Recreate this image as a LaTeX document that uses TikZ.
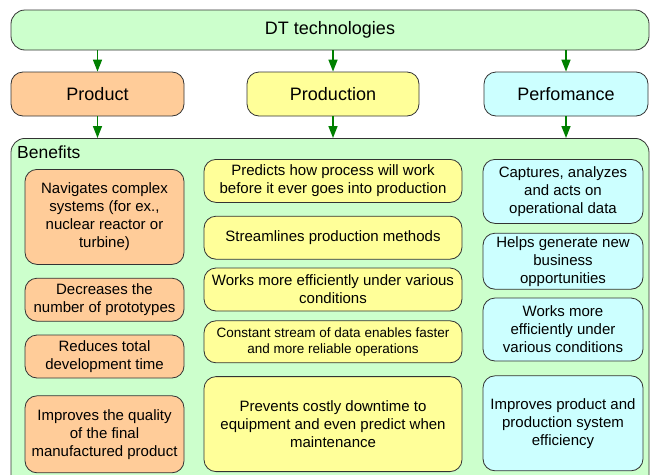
\documentclass[tikz,border=0pt]{standalone}
\usepackage{fontspec}
\setmainfont{Liberation Sans}
\usetikzlibrary{arrows.meta,positioning}

\definecolor{techgreen}{HTML}{CCFFCC}
\definecolor{prodorange}{HTML}{FFCC99}
\definecolor{prodyellow}{HTML}{FFFF99}
\definecolor{perfcyan}{HTML}{CCFFFF}
\definecolor{linkgreen}{HTML}{008000}

\begin{document}
\begin{tikzpicture}
    [x=1pt, y=-1pt, font=\fontsize{15}{18}\selectfont,
    % STYLES
    % The box style is the common look of every rounded box
    box/.style={rectangle, draw=black!80, line width=0.8pt, rounded corners=12pt, align=center, inner sep=2pt},
    % The head style is used for the three categories
    head/.style={box, minimum height=44pt, font=\fontsize{18}{21}\selectfont},
    % One style for each column of benefits
    product/.style={box, fill=prodorange, minimum width=159pt},
    production/.style={box, fill=prodyellow, minimum width=258pt},
    perfo/.style={box, fill=perfcyan, minimum width=160pt},
    % The link style is used for the green arrows
    link/.style={-{Triangle[length=12pt,width=9pt]}, draw=linkgreen, line width=1.5pt}]
    \useasboundingbox (0,0) rectangle (650,474);

    % Draw top and categories
    \node [box, fill=techgreen, minimum width=638pt, minimum height=40pt, rounded corners=14pt, font=\fontsize{18}{21}\selectfont] (dt) at (330,30) {DT technologies};
    \node [head, fill=prodorange, minimum width=173pt] (prod) at (97.5,94) {Product};
    \node [head, fill=prodyellow, minimum width=172pt] (prodn) at (333,94) {Production};
    \node [head, fill=perfcyan, minimum width=164pt] (perf) at (566,94) {Perfomance};

    % Draw benefits frame
    \node [box, fill=techgreen, minimum width=638pt, minimum height=352pt, rounded corners=14pt, anchor=north] (ben) at (330,138) {};
    \node [anchor=north west, inner sep=0pt, font=\fontsize{17.5}{20}\selectfont] (benlabel) at (17,146) {Benefits};

    % Product benefits
    \node [product, minimum height=95pt, anchor=north] (l1) at (104.5,169) {Navigates complex\\systems (for ex.,\\nuclear reactor or\\turbine)};
    \node [product, minimum height=43pt, below=13pt of l1] (l2) {Decreases the\\number of prototypes};
    \node [product, minimum height=43pt, below=13pt of l2] (l3) {Reduces total\\development time};
    \node [product, minimum height=77pt, below=17pt of l3] (l4) {Improves the quality\\of the final\\manufactured product};

    % Production benefits
    \node [production, minimum height=43pt, anchor=north] (m1) at (333,159) {Predicts how process will work\\before it ever goes into production};
    \node [production, minimum height=43pt, below=13pt of m1] (m2) {Streamlines production methods};
    \node [production, minimum height=43pt, below=8pt of m2] (m3) {Works more efficiently under various\\conditions};
    \node [production, minimum height=42pt, below=9pt of m3, font=\fontsize{13.5}{16.5}\selectfont] (m4) {Constant stream of data enables faster\\and more reliable operations};
    \node [production, minimum height=95pt, below=13pt of m4] (m5) {Prevents costly downtime to\\equipment and even predict when\\maintenance};

    % Perfomance benefits
    \node [perfo, minimum height=64pt, anchor=north] (r1) at (563,159) {Captures, analyzes\\and acts on\\operational data};
    \node [perfo, minimum height=56pt, below=9pt of r1] (r2) {Helps generate new\\business\\opportunities};
    \node [perfo, minimum height=63pt, below=8pt of r2] (r3) {Works more\\efficiently under\\various conditions};
    \node [perfo, minimum height=95pt, below=14pt of r3] (r4) {Improves product and\\production system\\efficiency};

    \draw [link] (dt.south -| prod) -- (prod);
    \draw [link] (dt.south -| prodn) -- (prodn);
    \draw [link] (dt.south -| perf) -- (perf);
    \draw [link] (prod) -- (prod |- ben.north);
    \draw [link] (prodn) -- (prodn |- ben.north);
    \draw [link] (perf) -- (perf |- ben.north);
\end{tikzpicture}
\end{document}
